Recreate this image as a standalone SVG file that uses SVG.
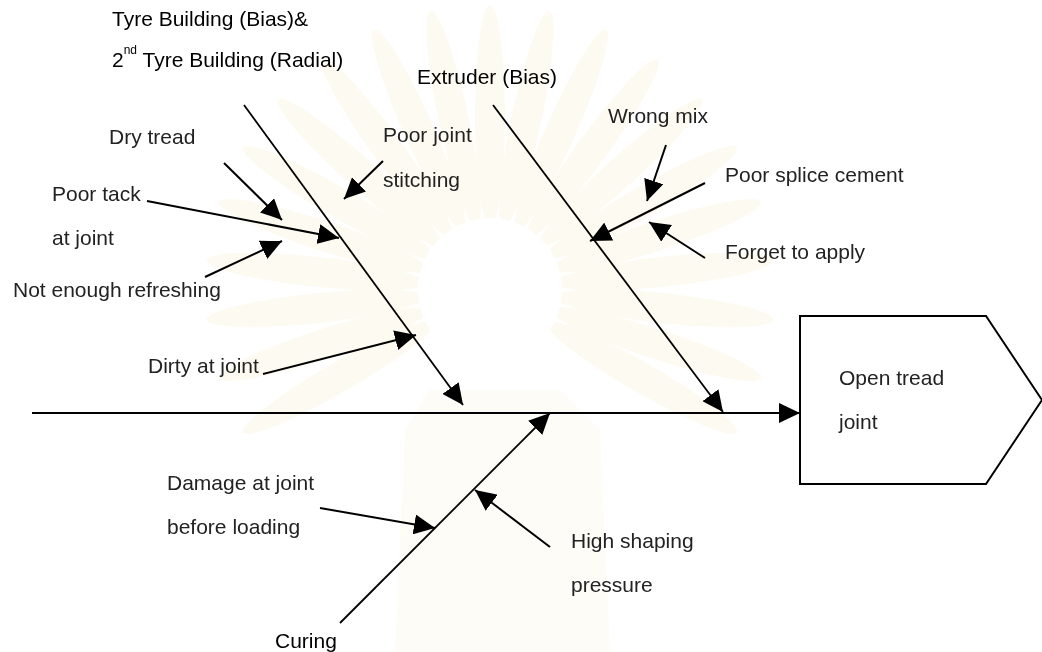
<svg xmlns="http://www.w3.org/2000/svg" width="1042" height="652" viewBox="0 0 1042 652">
  <style>
    .lbl { font-family: "Liberation Sans", Arial, sans-serif; font-size: 21px; fill: #222; }
    .hdr { font-family: "Liberation Sans", Arial, sans-serif; font-size: 21px; fill: #000; }
    .ln { stroke: #000; stroke-width: 2; fill: none; }
    .bone { stroke: #000; stroke-width: 1.8; fill: none; }
    .ray { fill: #fbf7e6; }
  </style>
  <defs>
    <marker id="arrow" markerUnits="userSpaceOnUse" markerWidth="21" markerHeight="20" refX="21" refY="10" orient="auto">
      <path d="M0,0 L21,10 L0,20 z" fill="#000"/>
    </marker>
    <ellipse id="petal" cx="0" cy="-175" rx="15" ry="110"/>
  </defs>

  <rect width="1042" height="652" fill="#fff"/>

  <!-- faint background emblem -->
  <g id="emblem" opacity="0.55">
    <g class="ray" transform="translate(490,290)">
      <use href="#petal" transform="rotate(-120)"/>
      <use href="#petal" transform="rotate(-108)"/>
      <use href="#petal" transform="rotate(-96)"/>
      <use href="#petal" transform="rotate(-84)"/>
      <use href="#petal" transform="rotate(-72)"/>
      <use href="#petal" transform="rotate(-60)"/>
      <use href="#petal" transform="rotate(-48)"/>
      <use href="#petal" transform="rotate(-36)"/>
      <use href="#petal" transform="rotate(-24)"/>
      <use href="#petal" transform="rotate(-12)"/>
      <use href="#petal" transform="rotate(0)"/>
      <use href="#petal" transform="rotate(12)"/>
      <use href="#petal" transform="rotate(24)"/>
      <use href="#petal" transform="rotate(36)"/>
      <use href="#petal" transform="rotate(48)"/>
      <use href="#petal" transform="rotate(60)"/>
      <use href="#petal" transform="rotate(72)"/>
      <use href="#petal" transform="rotate(84)"/>
      <use href="#petal" transform="rotate(96)"/>
      <use href="#petal" transform="rotate(108)"/>
      <use href="#petal" transform="rotate(120)"/>
    </g>
    <circle cx="490" cy="290" r="72" fill="#fff"/>
    <path d="M430,390 L560,390 L600,430 L610,652 L395,652 L405,430 z" fill="#fcf9f0"/>
  </g>

  <!-- connectors -->
  <g id="connectors">
    <line class="ln" x1="32" y1="413" x2="800" y2="413" marker-end="url(#arrow)"/>
    <line class="bone" x1="244" y1="105" x2="463" y2="405" marker-end="url(#arrow)"/>
    <line class="bone" x1="493" y1="105" x2="723" y2="412" marker-end="url(#arrow)"/>
    <line class="bone" x1="340" y1="623" x2="550" y2="413" marker-end="url(#arrow)"/>

    <line class="ln" x1="224" y1="163" x2="282" y2="220" marker-end="url(#arrow)"/>
    <line class="ln" x1="147" y1="201" x2="339" y2="238" marker-end="url(#arrow)"/>
    <line class="ln" x1="205" y1="277" x2="282" y2="241" marker-end="url(#arrow)"/>
    <line class="ln" x1="383" y1="161" x2="344" y2="199" marker-end="url(#arrow)"/>
    <line class="ln" x1="263" y1="374" x2="416" y2="335" marker-end="url(#arrow)"/>

    <line class="ln" x1="666" y1="145" x2="647" y2="201" marker-end="url(#arrow)"/>
    <line class="ln" x1="705" y1="183" x2="590" y2="241" marker-end="url(#arrow)"/>
    <line class="ln" x1="705" y1="258" x2="649" y2="222" marker-end="url(#arrow)"/>

    <line class="ln" x1="320" y1="508" x2="435" y2="528" marker-end="url(#arrow)"/>
    <line class="ln" x1="550" y1="547" x2="475" y2="490" marker-end="url(#arrow)"/>
  </g>

  <!-- effect -->
  <g id="effect">
    <polygon points="800,316 986,316 1042,400 986,484 800,484" fill="#fff" stroke="#000" stroke-width="2"/>
    <text class="lbl" x="839" y="385">Open tread</text>
    <text class="lbl" x="839" y="429">joint</text>
  </g>

  <!-- category: tyre building -->
  <g id="cat-building">
    <text class="hdr" x="112" y="26">Tyre Building (Bias)&amp;</text>
    <text class="hdr" x="112" y="67">2<tspan font-size="12" dy="-13">nd</tspan><tspan dy="13"> Tyre Building (Radial)</tspan></text>
  </g>

  <!-- category: extruder -->
  <g id="cat-extruder">
    <text class="hdr" x="417" y="84">Extruder (Bias)</text>
  </g>

  <!-- category: curing -->
  <g id="cat-curing">
    <text class="hdr" x="275" y="648">Curing</text>
  </g>

  <!-- causes -->
  <g id="cause-dry-tread"><text class="lbl" x="109" y="144">Dry tread</text></g>
  <g id="cause-poor-tack">
    <text class="lbl" x="52" y="201">Poor tack</text>
    <text class="lbl" x="52" y="245">at joint</text>
  </g>
  <g id="cause-refreshing"><text class="lbl" x="13" y="297">Not enough refreshing</text></g>
  <g id="cause-stitching">
    <text class="lbl" x="383" y="142">Poor joint</text>
    <text class="lbl" x="383" y="187">stitching</text>
  </g>
  <g id="cause-dirty"><text class="lbl" x="148" y="373">Dirty at joint</text></g>
  <g id="cause-wrong-mix"><text class="lbl" x="608" y="123">Wrong mix</text></g>
  <g id="cause-splice"><text class="lbl" x="725" y="182">Poor splice cement</text></g>
  <g id="cause-forget"><text class="lbl" x="725" y="259">Forget to apply</text></g>
  <g id="cause-damage">
    <text class="lbl" x="167" y="490">Damage at joint</text>
    <text class="lbl" x="167" y="534">before loading</text>
  </g>
  <g id="cause-shaping">
    <text class="lbl" x="571" y="548">High shaping</text>
    <text class="lbl" x="571" y="592">pressure</text>
  </g>
</svg>
